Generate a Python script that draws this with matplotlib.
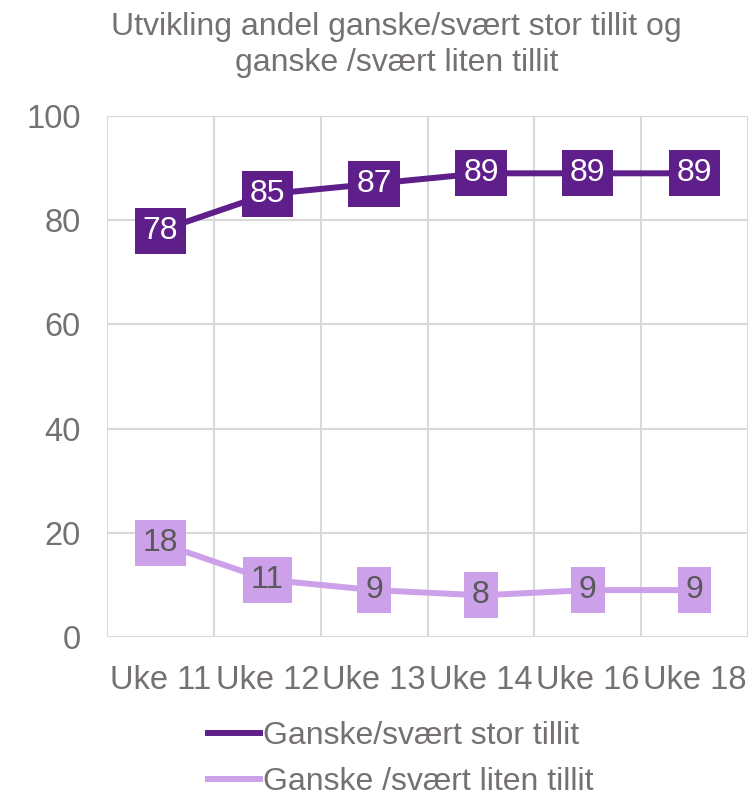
import matplotlib.pyplot as plt
import numpy as np

weeks = ['Uke 11', 'Uke 12', 'Uke 13', 'Uke 14', 'Uke 16', 'Uke 18']
stor = [78, 85, 87, 89, 89, 89]
liten = [18, 11, 9, 8, 9, 9]

dark = '#5f1f8a'
light = '#cda1e9'
grey = '#767171'

plt.rcParams['font.family'] = ['Liberation Sans', 'DejaVu Sans']

fig = plt.figure(figsize=(7.49, 7.99), dpi=100)
ax = fig.add_axes([107/749, 1-637/799, 641/749, 521/799])

x = np.arange(len(weeks))
ax.plot(x, stor, color=dark, lw=4.3, label='Ganske/svært stor tillit', zorder=3)
ax.plot(x, liten, color=light, lw=4.3, label='Ganske /svært liten tillit', zorder=3)

# data labels as filled boxes
for xi, v in zip(x, stor):
    ax.annotate(str(v), (xi, v), ha='center', va='center', fontsize=23, color='white',
                bbox=dict(boxstyle='square,pad=0.25', fc=dark, ec='none'), zorder=4)
for xi, v in zip(x, liten):
    ax.annotate(str(v), (xi, v), ha='center', va='center', fontsize=23, color='#595959',
                bbox=dict(boxstyle='square,pad=0.25', fc=light, ec='none'), zorder=4)

ax.set_xlim(-0.5, len(weeks) - 0.5)
ax.set_ylim(0, 100)
ax.set_yticks(range(0, 101, 20))
ax.set_xticks(x)
ax.set_xticklabels(weeks)
ax.set_xticks(np.arange(-0.5, len(weeks), 1), minor=True)
ax.grid(which='minor', axis='x', color='#d9d9d9', lw=1.5)
ax.grid(which='major', axis='y', color='#d9d9d9', lw=1.5)
ax.tick_params(which='both', length=0, labelsize=23.5, labelcolor=grey)
ax.tick_params(axis='x', pad=20)
ax.tick_params(axis='y', pad=19)
for s in ax.spines.values():
    s.set_visible(False)
ax.set_axisbelow(True)

fig.text(0.529, 0.944, 'Utvikling andel ganske/svært stor tillit og\nganske /svært liten tillit',
         ha='center', va='center', fontsize=23, color=grey, linespacing=1.25)

fig.legend(loc='center', bbox_to_anchor=(0.535, 0.05), frameon=False, fontsize=23,
           labelcolor=grey, handlelength=1.65, handletextpad=0.1, labelspacing=0.5,
           borderpad=0)

fig.savefig('out.png', dpi=100)
